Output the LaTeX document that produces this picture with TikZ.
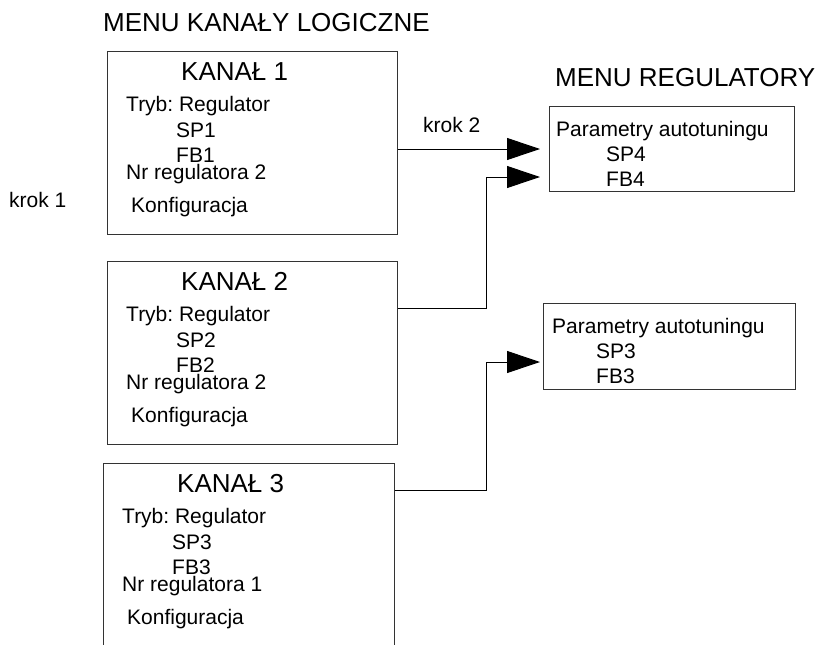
\documentclass[tikz,border=0pt]{standalone}
\usepackage{fontspec}
\setmainfont{Liberation Sans}
\usetikzlibrary{arrows.meta}
\frenchspacing
\begin{document}
\begin{tikzpicture}[
  x=1pt, y=-1pt,
  menubox/.style={rectangle, draw=black!80, line width=1.3pt, anchor=north west, inner sep=0pt},
  txt/.style={anchor=base west, inner sep=0pt, font=\fontsize{21}{25}\selectfont},
  head/.style={anchor=base west, inner sep=0pt, font=\fontsize{26}{31}\selectfont},
  link/.style={-{Triangle[length=33pt, width=22pt]}, line width=1pt},
]
  \useasboundingbox (0,0) rectangle (822,645);
  \fill[white] (0,0) rectangle (822,645);

  \node[head] (hkan) at (103,31) {MENU KANAŁY LOGICZNE};
  \node[head] (hreg) at (555,86) {MENU REGULATORY};

  % kanaly logiczne
  \node[menubox, minimum width=290pt, minimum height=183pt] (k1) at (107,51) {};
  \node[menubox, minimum width=290pt, minimum height=183pt] (k2) at (107,261) {};
  \node[menubox, minimum width=291pt, minimum height=200pt] (k3) at (103,463) {};

  \foreach \k/\n/\r in {k1/1/2, k2/2/2, k3/3/1} {
    \node[head] (\k-title) at ([shift={(74,29)}]\k.north west) {KANAŁ \n};
    \node[txt] (\k-mode) at ([shift={(19,60)}]\k.north west) {Tryb: Regulator};
    \node[txt] (\k-sp) at ([shift={(69,86)}]\k.north west) {SP\n};
    \node[txt] (\k-fb) at ([shift={(69,111)}]\k.north west) {FB\n};
    \node[txt] (\k-nr) at ([shift={(19,128)}]\k.north west) {Nr regulatora \r};
    \node[txt] (\k-conf) at ([shift={(24,161)}]\k.north west) {Konfiguracja};
  }

  % regulatory
  \node[menubox, minimum width=245pt, minimum height=85pt] (r1) at (549,106) {};
  \node[txt] (r1-par) at ([shift={(7,30)}]r1.north west) {Parametry autotuningu};
  \node[txt] (r1-sp) at ([shift={(57,55)}]r1.north west) {SP4};
  \node[txt] (r1-fb) at ([shift={(57,80)}]r1.north west) {FB4};

  \node[menubox, minimum width=252pt, minimum height=86pt] (r2) at (543,303) {};
  \node[txt] (r2-par) at ([shift={(9,30)}]r2.north west) {Parametry autotuningu};
  \node[txt] (r2-sp) at ([shift={(53,55)}]r2.north west) {SP3};
  \node[txt] (r2-fb) at ([shift={(53,80)}]r2.north west) {FB3};

  \node[txt] (krok1) at (9,207) {krok 1};
  \node[txt] (krok2) at (423,132) {krok 2};

  % polaczenia
  \coordinate (in1) at (540,149);
  \coordinate (in2) at (540,177);
  \coordinate (in3) at (540,362);
  \coordinate (bend2) at (486,308);
  \coordinate (bend3) at (486,490);

  \draw[link] (k1.east |- in1) -- (in1);
  \draw[link] (k2.east |- bend2) -- (bend2) |- (in2);
  \draw[link] (k3.east |- bend3) -- (bend3) |- (in3);
\end{tikzpicture}
\end{document}
